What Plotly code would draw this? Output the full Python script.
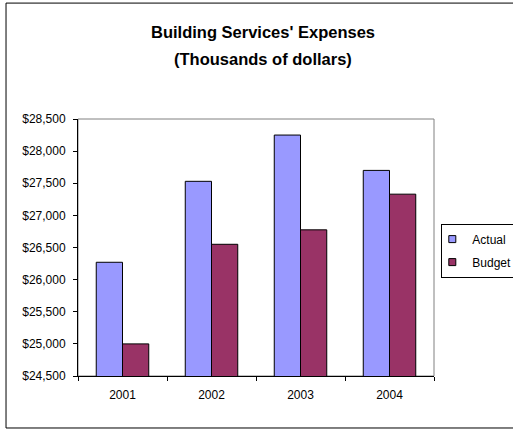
import plotly.graph_objects as go

# Building services expenses, thousands of dollars
years = ["2001", "2002", "2003", "2004"]
actual = [26270, 27530, 28250, 27700]
budget = [25000, 26550, 26775, 27330]
series_names = ["Actual", "Budget"]
series_colors = ["#9999FF", "#993366"]

title_lines = ["Building Services' Expenses", "(Thousands of dollars)"]

FONT = "Liberation Sans, Arial, sans-serif"

fig = go.Figure()
for name, vals, color in zip(series_names, [actual, budget], series_colors):
    fig.add_trace(go.Bar(
        x=years, y=vals, name=name, showlegend=False,
        marker=dict(color=color, line=dict(color="#000000", width=1)),
    ))
    # small square key for the legend
    fig.add_trace(go.Scatter(
        x=[None], y=[None], mode="markers", name=name, legendgroup=name,
        marker=dict(symbol="square", size=7, color=color,
                    line=dict(color="#000000", width=1)),
    ))

# outer chart frame
fig.add_shape(type="rect", xref="paper", yref="paper",
              x0=-0.2022, x1=1.35, y0=-0.2023, y1=1.451,
              line=dict(color="#000000", width=1), fillcolor="rgba(0,0,0,0)",
              layer="below")
# plot area border (top and right in grey)
fig.add_shape(type="rect", xref="paper", yref="paper",
              x0=0, x1=1, y0=0, y1=1,
              line=dict(color="#808080", width=1), fillcolor="rgba(0,0,0,0)",
              layer="below")

# two-line bold title
for text, ypos in zip(title_lines, [1.3385, 1.2335]):
    fig.add_annotation(
        text=f"<b>{text}</b>", xref="paper", yref="paper",
        x=0.5197, y=ypos, xanchor="center", yanchor="middle",
        showarrow=False, font=dict(family=FONT, size=16.5, color="#000000"),
    )

fig.update_layout(
    width=513, height=429,
    margin=dict(l=78, r=79, t=119, b=53, autoexpand=False),
    paper_bgcolor="#FFFFFF", plot_bgcolor="#FFFFFF",
    font=dict(family=FONT, size=12, color="#000000"),
    barmode="group", bargap=0.41, bargroupgap=0,
    showlegend=True,
    legend=dict(
        x=1.0205, xanchor="left", y=0.593, yanchor="top",
        bordercolor="#000000", borderwidth=1, bgcolor="#FFFFFF",
        font=dict(family=FONT, size=12, color="#000000"),
        itemwidth=30, traceorder="grouped", tracegroupgap=4,
        indentation=-10,
    ),
    xaxis=dict(
        type="category", showgrid=False, showline=True, linecolor="#000000",
        linewidth=1, ticks="outside", ticklen=4, tickcolor="#000000",
        tickson="boundaries", tickfont=dict(size=12), ticklabelstandoff=8,
    ),
    yaxis=dict(
        range=[24500, 28500], dtick=500, tickprefix="$", tickformat=",",
        showgrid=False, showline=True, linecolor="#000000", linewidth=1,
        ticks="outside", ticklen=4, tickcolor="#000000", zeroline=False,
        tickfont=dict(size=12), ticklabelstandoff=5,
    ),
)

fig.write_html("out.html")
